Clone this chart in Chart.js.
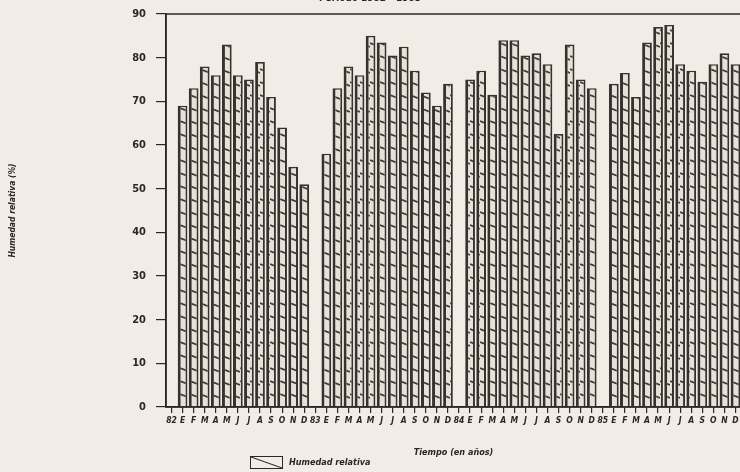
<!DOCTYPE html>
<html lang="es">
<head>
<meta charset="utf-8">
<script src="https://cdn.jsdelivr.net/npm/chart.js@4.4.1/dist/chart.umd.min.js"></script>
<style>
  html, body { margin: 0; padding: 0; background: #f1ede6; width: 740px; height: 472px; overflow: hidden; }
  #wrap { position: absolute; left: 0; top: -12px; width: 748px; height: 482px; }
  #leyenda { position: absolute; left: 250px; top: 455px; height: 14px; display: flex; align-items: center;
    font: italic bold 9px "DejaVu Sans Condensed", "DejaVu Sans", sans-serif; color: #2b2724; }
  #leyenda .caja { width: 31px; height: 11px; border: 1.5px solid #2b2724; margin-right: 6px;
    background: linear-gradient(to top right, transparent calc(50% - 1px), #2b2724 50%, transparent calc(50% + 1px)); }
</style>
</head>
<body>
<div id="wrap"><canvas id="graph" width="748" height="482"></canvas></div>
<div id="leyenda"><span class="caja"></span>Humedad relativa</div>
<script>
// 月 (enero - diciembre)
const MESES = ['E', 'F', 'M', 'A', 'M', 'J', 'J', 'A', 'S', 'O', 'N', 'D'];

// 年
const ANIOS = ['82', '83', '84', '85'];

// humedad relativa mensual (%)
const HUMEDAD_1982 = [69, 73, 78, 76, 83, 76, 75, 79, 71, 64, 55, 51];
const HUMEDAD_1983 = [58, 73, 78, 76, 85, 83.5, 80.5, 82.5, 77, 72, 69, 74];
const HUMEDAD_1984 = [75, 77, 71.5, 84, 84, 80.5, 81, 78.5, 62.5, 83, 75, 73];
const HUMEDAD_1985 = [74, 76.5, 71, 83.5, 87, 87.5, 78.5, 77, 74.5, 78.5, 81, 78.5];

// ticks eje y
const Y_MIN = 0;
const Y_MAX = 90;
const Y_PASO = 10;

const COLOR_TINTA = '#2b2724';
const FUENTE = '"DejaVu Sans Condensed", "DejaVu Sans", sans-serif';

// etiquetas: año + 12 meses por cada año (el hueco lleva el año)
let labels = [];
let valores = [];
const series = [HUMEDAD_1982, HUMEDAD_1983, HUMEDAD_1984, HUMEDAD_1985];
for (let i = 0; i < ANIOS.length; i++) {
  labels.push(ANIOS[i]);
  valores.push(null);
  for (let m = 0; m < MESES.length; m++) {
    labels.push(MESES[m]);
    valores.push(series[i][m]);
  }
}

/*
  trama rayada de las barras
*/
function crearTrama() {
  const c = document.createElement('canvas');
  c.width = 10;
  c.height = 13;
  const ctx = c.getContext('2d');
  ctx.fillStyle = '#e7e2d9';
  ctx.fillRect(0, 0, 10, 13);
  ctx.strokeStyle = '#3f3a35';
  ctx.lineWidth = 1.7;
  ctx.beginPath();
  ctx.moveTo(0, 3);
  ctx.lineTo(10, 7);
  ctx.stroke();
  return ctx.createPattern(c, 'repeat');
}

// marco del area de la grafica
const marco = {
  id: 'marco',
  afterDraw(chart) {
    const a = chart.chartArea;
    const ctx = chart.ctx;
    ctx.save();
    ctx.strokeStyle = COLOR_TINTA;
    ctx.lineWidth = 1.5;
    ctx.strokeRect(a.left, a.top, a.right - a.left, a.bottom - a.top);
    ctx.restore();
  }
};

let humedadGraph = new Chart(document.getElementById('graph'), {
  type: 'bar',
  data: {
    labels: labels,
    datasets: [{
      label: 'Humedad relativa',
      data: valores,
      backgroundColor: crearTrama(),
      borderColor: '#37322d',
      borderWidth: { left: 3, right: 2, top: 1.6, bottom: 0 },
      borderSkipped: 'bottom',
      barPercentage: 0.88,
      categoryPercentage: 1.0
    }]
  },
  options: {
    responsive: false,
    animation: false,
    layout: { padding: { top: 0, left: 0, right: 7, bottom: 10 } },
    plugins: {
      legend: { display: false },
      tooltip: { enabled: false },
      title: {
        display: true,
        text: 'Periodo 1982 - 1985',
        color: COLOR_TINTA,
        font: { family: FUENTE, size: 10, style: 'italic', weight: 'bold' },
        padding: { top: 4, bottom: 10 }
      }
    },
    scales: {
      x: {
        offset: true,
        grid: { display: true, drawOnChartArea: false, drawTicks: true, tickLength: 6, color: COLOR_TINTA, lineWidth: 1.2, offset: false },
        border: { display: true, color: COLOR_TINTA, width: 1.5 },
        ticks: {
          autoSkip: false, maxRotation: 0, minRotation: 0, padding: 3,
          color: COLOR_TINTA,
          font: { family: FUENTE, size: 8.5, style: 'italic', weight: 'bold' }
        },
        title: {
          display: true,
          text: 'Tiempo (en años)',
          color: COLOR_TINTA,
          font: { family: FUENTE, size: 9, style: 'italic', weight: 'bold' },
          padding: { top: 0, bottom: 2 }
        },
        afterFit: function(scale) { scale.height = 53; }
      },
      y: {
        min: Y_MIN,
        max: Y_MAX,
        grid: { display: true, drawOnChartArea: false, drawTicks: true, tickLength: 10, color: COLOR_TINTA, lineWidth: 1.2 },
        border: { display: true, color: COLOR_TINTA, width: 1.5 },
        ticks: {
          stepSize: Y_PASO, padding: 10,
          color: COLOR_TINTA,
          font: { family: FUENTE, size: 11, weight: 'bold' }
        },
        title: {
          display: true,
          text: 'Humedad relativa (%)',
          color: COLOR_TINTA,
          font: { family: FUENTE, size: 8.5, style: 'italic', weight: 'bold' },
          padding: { top: 8, bottom: 0 }
        },
        afterFit: function(scale) { scale.width = 166; }
      }
    }
  },
  plugins: [marco]
});
</script>
</body>
</html>
